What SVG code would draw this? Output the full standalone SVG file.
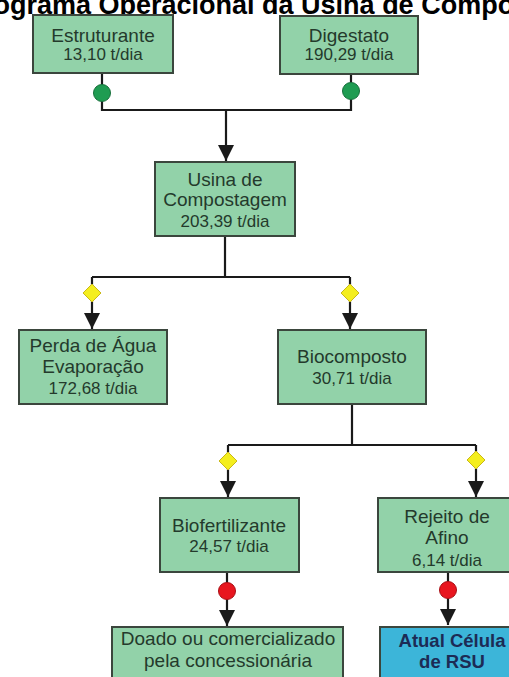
<svg xmlns="http://www.w3.org/2000/svg" width="509" height="677" viewBox="0 0 509 677">
<defs>
<marker id="arr" markerUnits="userSpaceOnUse" markerWidth="16" markerHeight="18" refX="16" refY="8" orient="auto" viewBox="0 0 16 16">
<path d="M0,0 L16,8 L0,16 Z" fill="#1a1a1a"/>
</marker>
</defs>
<style>
.box{fill:#92d2a9;stroke:#3b463d;stroke-width:2}
.blue{fill:#3cb5d9;stroke:#3b463d;stroke-width:2}
.t1{font-family:"Liberation Sans",Arial,sans-serif;font-size:19px;fill:#243a2c;text-anchor:middle}
.t2{font-family:"Liberation Sans",Arial,sans-serif;font-size:17px;fill:#243a2c;text-anchor:middle}
.tb{font-family:"Liberation Sans",Arial,sans-serif;font-size:18.5px;font-weight:bold;fill:#1c2b55;text-anchor:middle}
.ln{fill:none;stroke:#1a1a1a;stroke-width:2.2}
.green{fill:#1f9c52;stroke:#17703c;stroke-width:1}
.dia{fill:#f4ee1e;stroke:#c9b818;stroke-width:1}
.red{fill:#e8161f;stroke:#a80f15;stroke-width:1}
</style>
<rect width="509" height="677" fill="#ffffff"/>
<text x="-62" y="14" font-family="Liberation Sans,Arial,sans-serif" font-size="27" font-weight="bold" fill="#000">Fluxograma Operacional da Usina de Compostagem</text>
<g id="connectors">
<path class="ln" d="M102,73 V110 H351 V74"/>
<path class="ln" d="M226,110 V161" marker-end="url(#arr)"/>
<path class="ln" d="M225,236 V277"/>
<path class="ln" d="M92,277 H350"/>
<path class="ln" d="M92,277 V329" marker-end="url(#arr)"/>
<path class="ln" d="M350,277 V329" marker-end="url(#arr)"/>
<path class="ln" d="M352,404 V445"/>
<path class="ln" d="M228,445 H476"/>
<path class="ln" d="M228,445 V497" marker-end="url(#arr)"/>
<path class="ln" d="M476,445 V497" marker-end="url(#arr)"/>
<path class="ln" d="M227,572 V626" marker-end="url(#arr)"/>
<path class="ln" d="M448,572 V625" marker-end="url(#arr)"/>
<circle class="green" cx="102" cy="93" r="8.5"/>
<circle class="green" cx="351" cy="91" r="8.5"/>
<path class="dia" d="M92,284 L101,293 L92,302 L83,293 Z"/>
<path class="dia" d="M350,284 L359,293 L350,302 L341,293 Z"/>
<path class="dia" d="M228,452 L237,461 L228,470 L219,461 Z"/>
<path class="dia" d="M476,451 L485,460 L476,469 L467,460 Z"/>
<circle class="red" cx="227" cy="591" r="8.5"/>
<circle class="red" cx="448" cy="590" r="8.5"/>
</g>
<g id="estruturante">
<rect class="box" x="33" y="15" width="140" height="58"/>
<text class="t1" x="103" y="42">Estruturante</text>
<text class="t2" x="103" y="60">13,10 t/dia</text>
</g>
<g id="digestato">
<rect class="box" x="280" y="16" width="138" height="58"/>
<text class="t1" x="349" y="42">Digestato</text>
<text class="t2" x="349" y="60">190,29 t/dia</text>
</g>
<g id="usina">
<rect class="box" x="155" y="162" width="140" height="74"/>
<text class="t1" x="225" y="186">Usina de</text>
<text class="t1" x="225" y="206">Compostagem</text>
<text class="t2" x="225" y="227">203,39 t/dia</text>
</g>
<g id="perda">
<rect class="box" x="19" y="330" width="148" height="74"/>
<text class="t1" x="93" y="352">Perda de Água</text>
<text class="t1" x="93" y="373">Evaporação</text>
<text class="t2" x="93" y="394">172,68 t/dia</text>
</g>
<g id="biocomposto">
<rect class="box" x="278" y="330" width="148" height="74"/>
<text class="t1" x="352" y="363">Biocomposto</text>
<text class="t2" x="352" y="384">30,71 t/dia</text>
</g>
<g id="biofertilizante">
<rect class="box" x="160" y="498" width="139" height="74"/>
<text class="t1" x="229" y="532">Biofertilizante</text>
<text class="t2" x="229" y="552">24,57 t/dia</text>
</g>
<g id="rejeito">
<rect class="box" x="378" y="498" width="137" height="74"/>
<text class="t1" x="447" y="523">Rejeito de</text>
<text class="t1" x="447" y="544">Afino</text>
<text class="t2" x="447" y="566">6,14 t/dia</text>
</g>
<g id="doado">
<rect class="box" x="112" y="627" width="231" height="60"/>
<text class="t1" x="228" y="645">Doado ou comercializado</text>
<text class="t1" x="228" y="667">pela concessionária</text>
</g>
<g id="celula">
<rect class="blue" x="380" y="627" width="135" height="60"/>
<text class="tb" x="452" y="647">Atual Célula</text>
<text class="tb" x="452" y="668">de RSU</text>
</g>
</svg>
